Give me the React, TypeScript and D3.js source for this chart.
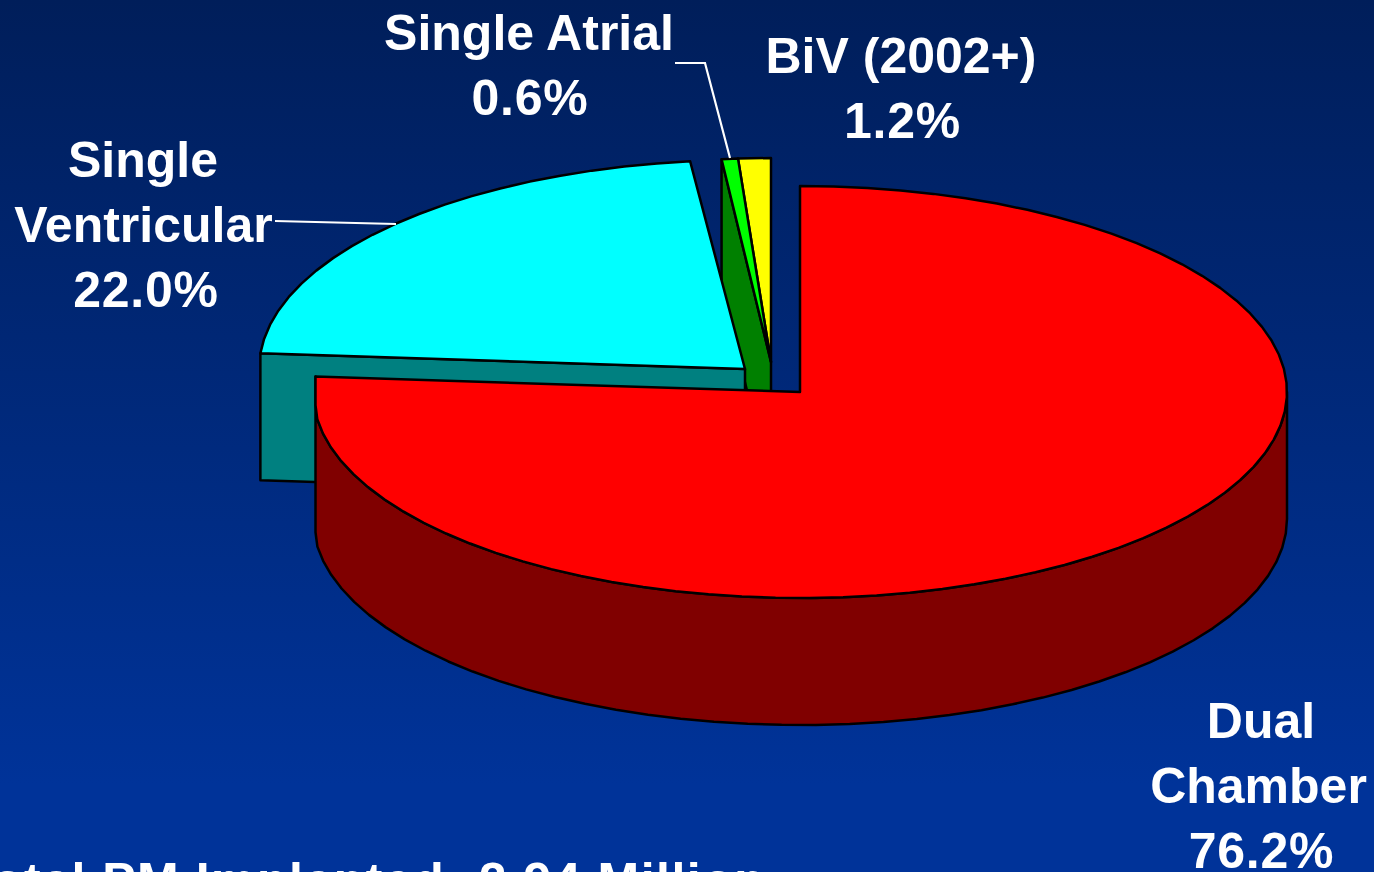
import React from "react";
import * as d3 from "d3";

const categories = ["Dual Chamber", "Single Ventricular", "Single Atrial", "BiV (2002+)"];
const shares = [76.2, 22.0, 0.6, 1.2];
const topFills = ["#ff0000", "#00ffff", "#00ff00", "#ffff00"];
const sideFills = ["#800000", "#008080", "#008000", "#808000"];
const labelLines = [
  ["Dual", "Chamber", "76.2%"],
  ["Single", "Ventricular", "22.0%"],
  ["Single Atrial", "0.6%"],
  ["BiV (2002+)", "1.2%"],
];
const footer = "Total PM Implanted: 2.94 Million";

const W = 1374;
const H = 872;
const DEPTH = 127;
const geometry = [
  { cx: 800, cy: 392, rx: 487, ry: 206, minX: 315.5 },
  { cx: 745, cy: 369, rx: 486, ry: 209, minX: 260 },
  { cx: 771, cy: 362, rx: 438, ry: 204, minX: 0 },
  { cx: 771, cy: 362, rx: 438, ry: 204, minX: 0 },
];
const labelPos = [
  { x: [1261, 1258.5, 1261.5], y: [738, 803, 868] },
  { x: [143, 143.5, 146], y: [177, 242, 307] },
  { x: [529, 530], y: [50, 115] },
  { x: [901, 902.5], y: [73, 138] },
];

const arcs = d3.pie<number>().sort(null).value((d) => d)(shares);
const TAU = Math.PI * 2;

function pt(i: number, a: number, dy = 0): [number, number] {
  const g = geometry[i];
  return [Math.max(g.minX, g.cx + g.rx * Math.sin(a)), g.cy - g.ry * Math.cos(a) + dy];
}
function samples(a0: number, a1: number): number[] {
  const n = Math.max(1, Math.round(Math.abs(a1 - a0) / (TAU / 90)));
  return d3.range(n + 1).map((k) => a0 + ((a1 - a0) * k) / n);
}
const line = d3.line();
function topPath(i: number): string {
  const a = arcs[i];
  const g = geometry[i];
  return line([[g.cx, g.cy], ...samples(a.startAngle, a.endAngle).map((t) => pt(i, t))]) + "Z";
}
function wallPath(i: number, a0: number, a1: number): string {
  const s = samples(a0, a1);
  return (
    line([...s.map((t) => pt(i, t)), ...s.slice().reverse().map((t) => pt(i, t, DEPTH))]) + "Z"
  );
}
function cutPath(i: number, a: number): string {
  const g = geometry[i];
  const o = pt(i, a);
  return line([o, [g.cx, g.cy], [g.cx, g.cy + DEPTH], [o[0], o[1] + DEPTH]]) + "Z";
}

const stroke = { stroke: "#000", strokeWidth: 2.5, strokeLinejoin: "round" as const };

export default function App() {
  return (
    <svg
      width={W}
      height={H}
      viewBox={`0 0 ${W} ${H}`}
      style={{ position: "fixed", left: 0, top: 0, display: "block" }}
      role="img"
      aria-label={categories.join(", ")}
    >
      <defs>
        <linearGradient id="bg" x1="0" y1="0" x2="0" y2="1">
          <stop offset="0" stopColor="#001e5a" />
          <stop offset="0.9" stopColor="#003399" />
          <stop offset="1" stopColor="#003399" />
        </linearGradient>
      </defs>
      <rect width={W} height={H} fill="url(#bg)" />

      <path d={cutPath(2, arcs[2].startAngle)} fill={sideFills[2]} {...stroke} />
      <path d={topPath(3)} fill={topFills[3]} {...stroke} />
      <path d={topPath(2)} fill={topFills[2]} {...stroke} />

      <path d={cutPath(1, arcs[1].startAngle)} fill={sideFills[1]} {...stroke} />
      <path d={topPath(1)} fill={topFills[1]} {...stroke} />

      <path d={wallPath(0, Math.PI / 2, arcs[0].endAngle)} fill={sideFills[0]} {...stroke} />
      <path d={topPath(0)} fill={topFills[0]} {...stroke} />

      <g fill="none" stroke="#fff" strokeWidth={2.2}>
        <path d={line([[675, 63], [705, 63], [730, 158]]) ?? ""} />
        <path d={line([[275, 221], [396, 224]]) ?? ""} />
      </g>

      <g
        fill="#fff"
        fontFamily="'Liberation Sans', Arial, sans-serif"
        fontWeight={700}
        fontSize={50}
        textAnchor="middle"
      >
        {labelLines.map((lines, i) =>
          lines.map((t, j) => (
            <text
              key={`${i}-${j}`}
              x={labelPos[i].x[j]}
              y={labelPos[i].y[j]}
              letterSpacing={t.endsWith("%") ? 0.7 : 0}
            >
              {t}
            </text>
          ))
        )}
        <text x={365} y={898} letterSpacing={1.5}>
          {footer}
        </text>
      </g>
    </svg>
  );
}
